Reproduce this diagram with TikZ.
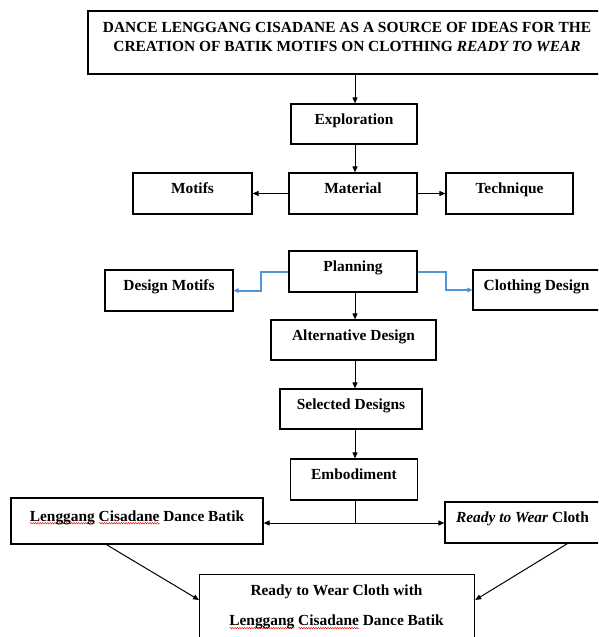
\documentclass[tikz,border=0pt]{standalone}
\usepackage{fontspec}
\setmainfont{Liberation Serif}
\usetikzlibrary{arrows.meta,decorations.pathmorphing}
\definecolor{wordblue}{RGB}{80,150,215}
\newlength{\spellw}
\newcommand{\spellmark}[1]{\settowidth{\spellw}{#1}\leavevmode\rlap{\raisebox{-3.2pt}[0pt][0pt]{\tikz\draw[red, line width=0.45pt, decorate, decoration={snake, amplitude=0.75pt, segment length=2.4pt}] (0pt,0pt) -- (\spellw,0pt);}}#1}
\begin{document}
\begin{tikzpicture}[x=1pt,y=-1pt,
  font=\fontsize{15.4}{18.7}\selectfont\bfseries,
  box/.style={draw, line width=1.2pt, rectangle, inner sep=0pt, text height=10pt, text depth=10pt},
  arr/.style={line width=1pt, -{Triangle[length=6pt,width=5pt]}},
  barr/.style={color=wordblue, line width=2pt, -{Triangle[length=5pt,width=4.5pt]}},
  plain/.style={line width=1pt},
  txt/.style={inner sep=0pt, align=center}]

\useasboundingbox (0,0) rectangle (598,637);
\clip (0,0) rectangle (598,637);

\coordinate (axis) at (355,0);

% title
\node[box, minimum width=518pt, minimum height=63pt] (title) at (347,42.5) {};
\node[txt, anchor=north] (titletext) at (347,22) {DANCE LENGGANG CISADANE AS A SOURCE OF IDEAS FOR THE\\CREATION OF BATIK MOTIFS ON CLOTHING \textit{READY TO WEAR}};

\node[box, minimum width=126pt, minimum height=40pt] (explore) at (354,124) {Exploration};
\node[box, minimum width=128pt, minimum height=41pt] (material) at (353,193.5) {Material};
\node[box, minimum width=119pt, minimum height=41pt] (motifs) at (192.5,193.5) {Motifs};
\node[box, minimum width=127pt, minimum height=41pt] (technique) at (509.5,193.5) {Technique};

\node[box, minimum width=128pt, minimum height=41pt] (planning) at (353,271.5) {Planning};
\node[box, minimum width=128pt, minimum height=41pt] (dmotifs) at (169,290.5) {Design Motifs};
\node[box, minimum width=127pt, minimum height=40pt] (cdesign) at (536.5,290) {Clothing Design};
\node[box, minimum width=165pt, minimum height=40pt] (alt) at (353.5,340) {Alternative Design};
\node[box, minimum width=142pt, minimum height=40pt] (selected) at (351,409) {Selected Designs};
\node[box, minimum width=127pt, minimum height=41pt] (embod) at (354,479.5) {Embodiment};

\node[box, minimum width=252pt, minimum height=46pt] (lcdb) at (137,521) {\spellmark{Lenggang} \spellmark{Cisadane} Dance Batik};
\node[box, minimum width=155pt, minimum height=41pt] (rtw) at (522.5,522.5) {\textit{Ready to Wear} Cloth};

\node[box, minimum width=275pt, minimum height=110pt, anchor=north west] (final) at (199,574) {};
\node[txt, anchor=north] (finaltext) at (336.5,585) {Ready to Wear Cloth with\\[11.3pt]\spellmark{Lenggang} \spellmark{Cisadane} Dance Batik};

% connectors
\draw[arr] (axis|-title.south) -- (axis|-explore.north);
\draw[arr] (axis|-explore.south) -- (axis|-material.north);
\draw[arr] (material.west) -- (motifs.east);
\draw[arr] (material.east) -- (technique.west);

\draw[barr] (planning.west) -- ++(-27,0) |- (dmotifs.east);
\draw[barr] (planning.east) -- ++(28,0) |- (cdesign.west);

\draw[arr] (axis|-planning.south) -- (axis|-alt.north);
\draw[arr] (axis|-alt.south) -- (axis|-selected.north);
\draw[arr] (axis|-selected.south) -- (axis|-embod.north);

\coordinate (split) at (355,523);
\draw[plain] (axis|-embod.south) -- (split);
\draw[arr] (split) -- (split-|lcdb.east);
\draw[arr] (split) -- (split-|rtw.west);

\draw[arr] ([xshift=96pt]lcdb.south west) -- ([yshift=-26pt]final.north west);
\draw[arr] ([xshift=123pt]rtw.south west) -- ([yshift=-26pt]final.north east);
\end{tikzpicture}
\end{document}
